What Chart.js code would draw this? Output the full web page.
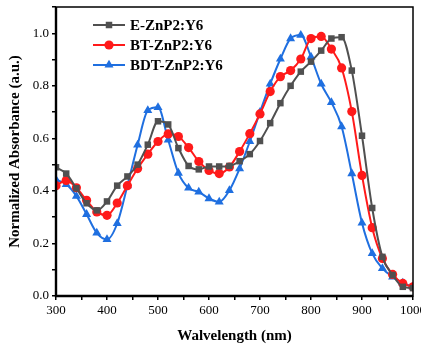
<!DOCTYPE html>
<html><head><meta charset="utf-8">
<script src="https://cdn.jsdelivr.net/npm/chart.js@4/dist/chart.umd.min.js"></script>
<style>html,body{margin:0;padding:0;background:#fff}#wrap{width:421px;height:345px}</style>
</head><body><div id="wrap"><canvas id="c" width="421" height="345"></canvas></div>
<script>
const wavelengths = [300,320,340,360,380,400,420,440,460,480,500,520,540,560,580,600,620,640,660,680,700,720,740,760,780,800,820,840,860,880,900,920,940,960,980,1000];
const seriesNames = ["E-ZnP2:Y6","BT-ZnP2:Y6","BDT-ZnP2:Y6"];
const eZnP2 = [0.49,0.466,0.41,0.353,0.326,0.36,0.42,0.455,0.50,0.576,0.665,0.653,0.563,0.495,0.482,0.493,0.493,0.495,0.513,0.54,0.59,0.658,0.734,0.80,0.854,0.892,0.934,0.98,0.985,0.858,0.61,0.335,0.149,0.08,0.035,0.03];
const btZnP2 = [0.42,0.44,0.412,0.364,0.32,0.307,0.354,0.42,0.485,0.54,0.588,0.617,0.607,0.565,0.512,0.478,0.466,0.491,0.55,0.618,0.693,0.778,0.835,0.858,0.902,0.98,0.988,0.94,0.868,0.702,0.459,0.26,0.143,0.082,0.048,0.035];
const bdtZnP2 = [0.443,0.425,0.38,0.311,0.24,0.215,0.276,0.42,0.575,0.706,0.718,0.594,0.468,0.411,0.396,0.371,0.358,0.402,0.485,0.588,0.70,0.807,0.902,0.98,0.993,0.91,0.807,0.737,0.645,0.466,0.278,0.162,0.105,0.073,0.05,0.035];
const xTickLabels = ["300","400","500","600","700","800","900","1000"];
const yTickLabels = ["0.0","0.2","0.4","0.6","0.8","1.0"];

const FONT = "'Liberation Serif','Times New Roman',serif";
const colors = ["#505050","#ff1a1a","#1f6fe0"];
const styles = ["rect","circle","triangle"];
const radii = [4.6,4.6,5.2];
const seriesData = [eZnP2,btZnP2,bdtZnP2];

const datasets = seriesData.map((arr,i)=>({
  label: seriesNames[i],
  data: wavelengths.map((w,j)=>({x:w,y:arr[j]})),
  borderColor: colors[i],
  backgroundColor: colors[i],
  borderWidth: 2,
  pointStyle: styles[i],
  pointRadius: radii[i],
  pointBorderWidth: 0,
  cubicInterpolationMode: 'monotone',
  fill: false
}));

const framePlugin = {
  id:'frame',
  afterDraw(chart){
    const {ctx, chartArea:a} = chart;
    ctx.save();
    ctx.strokeStyle='#000'; ctx.lineWidth=1.5;
    ctx.strokeRect(a.left,a.top,a.right-a.left,a.bottom-a.top);
    ctx.lineWidth=2.4;
    ctx.beginPath(); ctx.moveTo(a.left,a.top); ctx.lineTo(a.left,a.bottom); ctx.lineTo(a.right,a.bottom); ctx.stroke();
    // legend
    const lx0=93, lx1=125, ys=[25,45,65];
    chart.data.datasets.forEach((ds,i)=>{
      const y=ys[i];
      ctx.strokeStyle=ds.borderColor; ctx.lineWidth=2;
      ctx.beginPath(); ctx.moveTo(lx0,y); ctx.lineTo(lx1,y); ctx.stroke();
      ctx.fillStyle=ds.backgroundColor;
      Chart.helpers.drawPoint(ctx,{pointStyle:ds.pointStyle,radius:ds.pointRadius,borderWidth:0},(lx0+lx1)/2,y);
      ctx.fillStyle='#000';
      ctx.font="bold 15px "+FONT;
      ctx.textBaseline='middle'; ctx.textAlign='left';
      ctx.fillText(ds.label,130,y+1);
    });
    ctx.restore();
  }
};

new Chart(document.getElementById('c'),{
  type:'line',
  data:{datasets},
  options:{
    responsive:false, animation:false,
    layout:{padding:{top:7,right:8,left:0,bottom:0}},
    plugins:{legend:{display:false},tooltip:{enabled:false}},
    scales:{
      x:{type:'linear',min:300,max:1000,
        afterFit(s){s.height=49;s.paddingLeft=0;s.paddingRight=0;},
        border:{display:false},
        grid:{drawOnChartArea:false,drawTicks:true,tickLength:4,color:'#000',lineWidth:1.5},
        ticks:{stepSize:50,autoSkip:false,maxRotation:0,color:'#000',padding:3,font:{family:FONT,size:13},
          callback:(v)=>{const i=xTickLabels.indexOf(String(v));return i>=0?xTickLabels[i]:'';}},
        title:{display:true,text:'Walvelength (nm)',color:'#000',font:{family:FONT,size:15,weight:'bold'},padding:{top:5,bottom:0}}
      },
      y:{type:'linear',min:0,max:1.1,
        afterFit(s){s.width=56;s.paddingTop=0;s.paddingBottom=0;},
        border:{display:false},
        grid:{drawOnChartArea:false,drawTicks:true,tickLength:4,color:'#000',lineWidth:1.5},
        ticks:{stepSize:0.1,autoSkip:false,color:'#000',padding:3,font:{family:FONT,size:13},
          callback:(v)=>{const s=(Math.round(v*10)/10).toFixed(1);return yTickLabels.includes(s)?s:'';}},
        title:{display:true,text:'Normalized Absorbance (a.u.)',color:'#000',font:{family:FONT,size:15,weight:'bold'},padding:{top:6,bottom:0}}
      }
    }
  },
  plugins:[framePlugin]
});
</script></body></html>
